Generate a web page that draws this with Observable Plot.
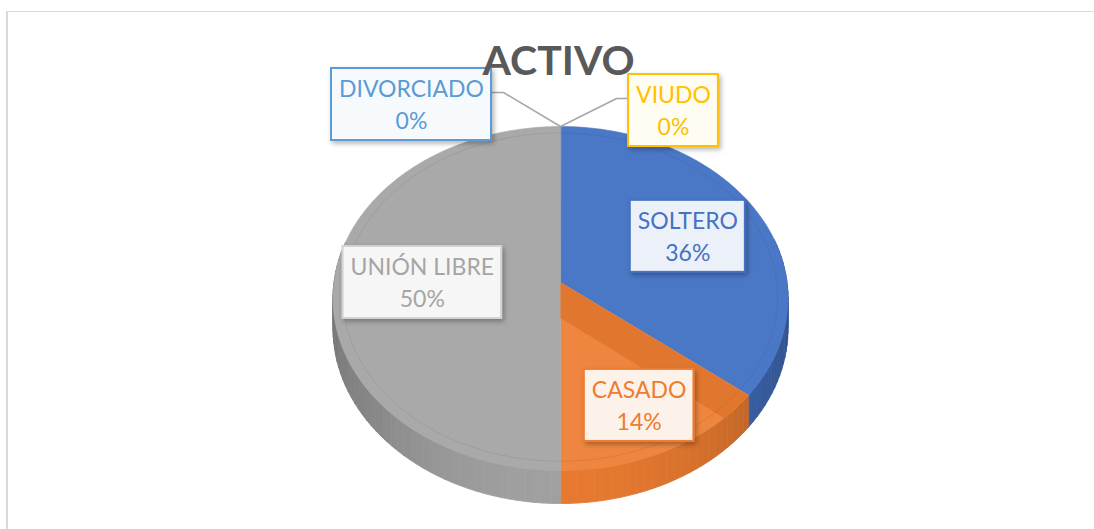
<!DOCTYPE html>
<html><head><meta charset="utf-8">
<script src="https://cdn.jsdelivr.net/npm/d3@7"></script>
<script src="https://cdn.jsdelivr.net/npm/@observablehq/plot@0.6"></script>
<style>
html,body{margin:0;padding:0;background:#fff;overflow:hidden;width:1094px;height:529px}
#frame{position:absolute;left:6px;top:11px;width:1200px;height:700px;border-left:2px solid #d9d9d9;border-top:1px solid #d9d9d9;box-sizing:border-box}
#chart{position:absolute;left:0;top:0}
</style></head><body>
<div id="frame"></div><div id="chart"></div>
<script>
// ---- data ----
const title = "ACTIVO";
const categories = ["SOLTERO", "CASADO", "UNIÓN LIBRE", "DIVORCIADO", "VIUDO"];
const counts = [5, 2, 7, 0, 0];
// ---- styles / layout ----
const palette = ["#4472C4", "#ED7D31", "#A5A5A5", "#5B9BD5", "#FFC000"];
const FONT = "Lato";
const LABEL_SIZE = 23;
const labelR = {"SOLTERO": 0.64, "CASADO": 0.75, "UNIÓN LIBRE": 0.61};
const calloutOffset = {"DIVORCIADO": [-149, -22], "VIUDO": [113, -16]};

const W = 1094, H = 529;
const CX = 560, CY = 282, A = 226.5, B = 170.5, K = 0.093, T = 30;
function proj(theta, r = 1, drop = 0) {
  const t = theta * Math.PI / 180;
  const u = r * Math.sin(t), v = -r * Math.cos(t);
  const s = 1 / (1 - K * v);
  return [CX + A * u * s, CY + B * v * s + drop * s];
}
const total = d3.sum(counts);
const slices = [];
let acc = 0;
categories.forEach((name, i) => {
  const a0 = acc / total * 360; acc += counts[i]; const a1 = acc / total * 360;
  slices.push({name, value: counts[i], a0, a1, color: palette[i]});
});
const lighten = (c, k) => d3.interpolateRgb(c, "#fff")(k);
const darken = (c, k) => d3.interpolateRgb(c, "#000")(k);

// side walls
const sidePts = [];
let qid = 0;
for (const s of slices) {
  if (s.value <= 0) continue;
  const step = 2;
  const n = Math.max(1, Math.ceil((s.a1 - s.a0) / step));
  for (let j = 0; j < n; j++) {
    const a = s.a0 + (s.a1 - s.a0) * j / n, b = s.a0 + (s.a1 - s.a0) * (j + 1) / n;
    const m = (a + b) / 2 * Math.PI / 180;
    if (-Math.cos(m) < -0.25) continue;
    const uu = Math.abs(Math.sin(m));
    const col = darken(s.color, 0.03 + 0.24 * Math.pow(uu, 2));
    const id = "q" + (qid++);
    for (const [x, y] of [proj(a), proj(b), proj(b, 1, T), proj(a, 1, T)]) sidePts.push({id, x, y, fill: col});
  }
}
// top faces
const topPts = [];
for (const s of slices) {
  if (s.value <= 0) continue;
  const col = s.name === "CASADO" ? lighten(s.color, 0.07) : lighten(s.color, 0.04);
  const [x0, y0] = proj(0, 0);
  topPts.push({id: s.name, x: x0, y: y0, fill: col});
  const n = Math.max(2, Math.ceil(s.a1 - s.a0));
  for (let j = 0; j <= n; j++) {
    const [x, y] = proj(s.a0 + (s.a1 - s.a0) * j / n);
    topPts.push({id: s.name, x, y, fill: col});
  }
}
// bevel band along the leading radial edge of CASADO
const bandPts = [];
{
  const s = slices[1];
  const d = 0.16, t1 = s.a0 * Math.PI / 180;
  const col = darken(s.color, 0.05);
  const e = [Math.sin(t1), -Math.cos(t1)], nn = [Math.cos(t1), Math.sin(t1)];
  const scr = (u, v) => { const k = 1 / (1 - K * v); return [CX + A * u * k, CY + B * v * k]; };
  const pts = [scr(0, 0)];
  const dA = Math.atan2(d, Math.sqrt(1 - d * d)) * 180 / Math.PI;
  for (let j = 0; j <= 8; j++) pts.push(proj(s.a0 + dA * j / 8));
  const tt = -d * nn[0] / e[0];
  pts.push(scr(d * nn[0] + tt * e[0], d * nn[1] + tt * e[1]));
  for (const [x, y] of pts) bandPts.push({id: "band", x, y, fill: col});
}
// inner bevel ring
const ringPts = d3.range(0, 361, 2).map(a => { const [x, y] = proj(a, 0.955); return {x, y}; });

// labels
const ctx = document.createElement("canvas").getContext("2d");
ctx.font = `${LABEL_SIZE}px ${FONT}`;
const boxes = [], leaders = [];
for (const s of slices) {
  const pct = Math.round(s.value / total * 100) + "%";
  let cx, cy;
  const mid = (s.a0 + s.a1) / 2;
  if (s.value > 0) {
    [cx, cy] = proj(mid, labelR[s.name] ?? 0.65);
  } else {
    const [ax, ay] = proj(s.a0);
    const [dx, dy] = calloutOffset[s.name] ?? [0, -40];
    cx = ax + dx; cy = ay + dy;
  }
  const w = Math.max(ctx.measureText(s.name).width, ctx.measureText(pct).width) + 15;
  const h = 72;
  const b = {name: s.name, pct, cx, cy, x1: cx - w / 2, x2: cx + w / 2, y1: cy - h / 2, y2: cy + h / 2,
    color: s.color, stroke: s.name === "UNIÓN LIBRE" ? lighten(s.color, 0.5) : s.color,
    fill: lighten(s.color, s.value > 0 ? 0.9 : 0.95)};
  boxes.push(b);
  if (s.value <= 0) {
    const [ax, ay] = proj(s.a0);
    const side = b.cx < ax ? b.x2 : b.x1;
    const dir = b.cx < ax ? 1 : -1;
    const yl = cy - 12;
    leaders.push({id: s.name, x: side, y: yl}, {id: s.name, x: side + dir * 12, y: yl}, {id: s.name, x: ax, y: ay});
  }
}

const plot = Plot.plot({
  width: W, height: H, margin: 0,
  x: {domain: [0, W], range: [0, W], axis: null},
  y: {domain: [0, H], range: [0, H], axis: null},
  color: {type: "identity"},
  style: {background: "transparent", fontFamily: FONT, overflow: "visible"},
  marks: [
    Plot.line(sidePts, {x: "x", y: "y", z: "id", fill: "fill", stroke: "fill", strokeWidth: 0.8, curve: "linear-closed"}),
    Plot.line(topPts, {x: "x", y: "y", z: "id", fill: "fill", stroke: "fill", strokeWidth: 0.6, curve: "linear-closed"}),
    Plot.line(bandPts, {x: "x", y: "y", z: "id", fill: "fill", curve: "linear-closed"}),
    Plot.line(ringPts, {x: "x", y: "y", stroke: "#000", strokeOpacity: 0.07, strokeWidth: 1}),
    Plot.line(leaders, {x: "x", y: "y", z: "id", stroke: "#a6a6a6", strokeWidth: 1.5}),
    Plot.rect(boxes, {x1: "x1", x2: "x2", y1: "y1", y2: "y2", fill: "fill", stroke: "stroke", strokeWidth: 2}),
    Plot.text(boxes, {x: "cx", y: "cy", dy: -15, text: "name", fill: "color", fontSize: LABEL_SIZE, lineAnchor: "middle"}),
    Plot.text(boxes, {x: "cx", y: "cy", dy: 17, text: "pct", fill: "color", fontSize: LABEL_SIZE, lineAnchor: "middle"}),
    Plot.text([title], {frameAnchor: "top", dx: 11, dy: 61, text: d => d, fill: "#595959", fontSize: 41, fontWeight: "bold", lineAnchor: "middle"})
  ]
});
// soft shadow behind label boxes
const svg = d3.select(plot);
const defs = svg.insert("defs", ":first-child");
defs.append("filter").attr("id", "sh").attr("x", "-20%").attr("y", "-20%").attr("width", "150%").attr("height", "150%")
  .append("feDropShadow").attr("dx", 2).attr("dy", 2.5).attr("stdDeviation", 2.5).attr("flood-color", "#000").attr("flood-opacity", 0.3);
svg.selectAll('g[aria-label="rect"]').attr("filter", "url(#sh)");
document.getElementById("chart").appendChild(plot);
</script>
</body></html>
